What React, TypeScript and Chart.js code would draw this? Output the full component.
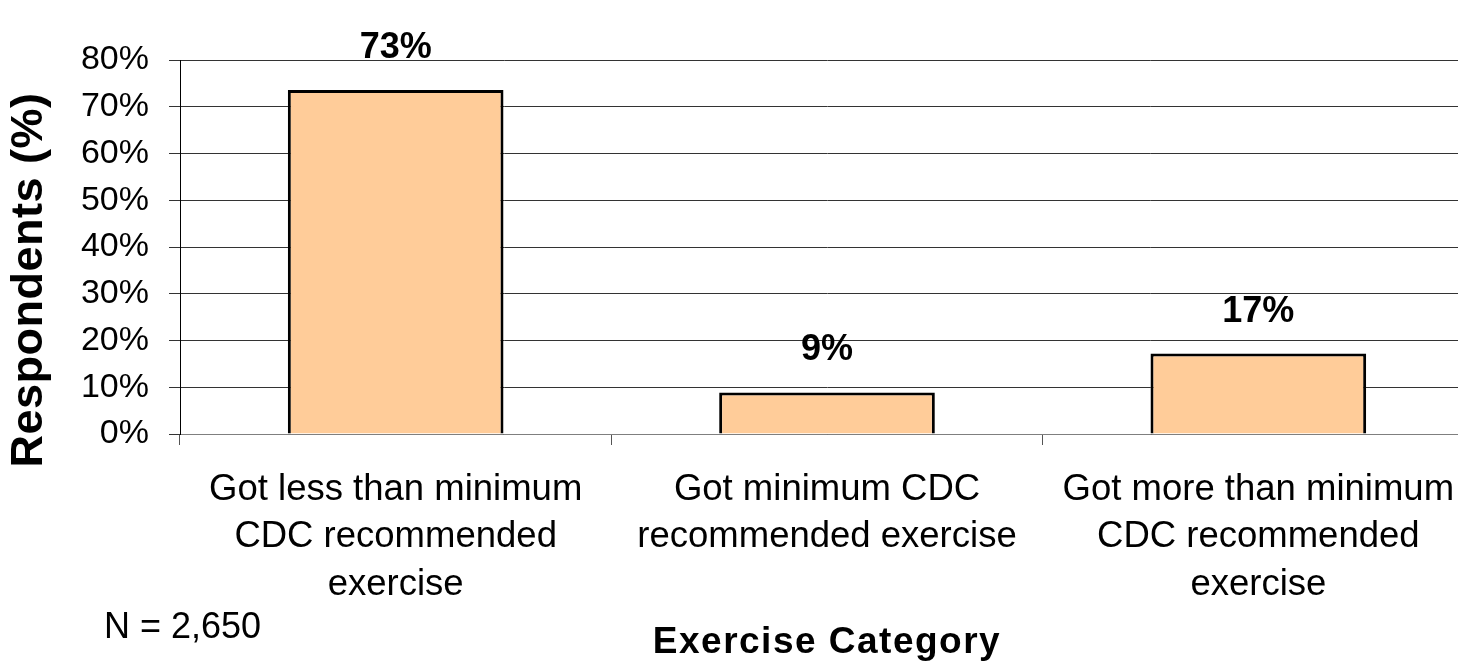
import React, { useEffect, useRef } from 'react';
import { Chart, registerables } from 'chart.js';

Chart.register(...registerables);

// ---- data ----
const categories: string[][] = [
  ['Got less than minimum', 'CDC recommended', 'exercise'],
  ['Got minimum CDC', 'recommended exercise'],
  ['Got more than minimum', 'CDC recommended', 'exercise'],
];
const values: number[] = [73.6, 8.9, 17.2];
const valueLabels: string[] = ['73%', '9%', '17%'];
const yMin = 0;
const yMax = 80;
const yStep = 10;
const yTitle = 'Respondents (%)';
const xTitle = 'Exercise Category';
const note = 'N = 2,650';

const FONT = '"Liberation Sans", Arial, Helvetica, sans-serif';

const textPlugin = {
  id: 'customTexts',
  afterDraw(chart: any) {
    const { ctx, chartArea } = chart;
    ctx.save();
    ctx.fillStyle = '#000';
    // value labels above bars
    const meta = chart.getDatasetMeta(0);
    ctx.font = `bold 36px ${FONT}`;
    ctx.textAlign = 'center';
    ctx.textBaseline = 'middle';
    meta.data.forEach((bar: any, i: number) => {
      ctx.fillText(valueLabels[i], bar.x, bar.y - 42);
    });

    // y-axis title (rotated)
    ctx.save();
    ctx.translate(30, (chartArea.top + chartArea.bottom) / 2 + 33);
    ctx.rotate(-Math.PI / 2);
    ctx.font = `bold 45px ${FONT}`;
    (ctx as any).letterSpacing = '0.5px';
    ctx.textAlign = 'center';
    ctx.textBaseline = 'middle';
    ctx.fillText(yTitle, 0, 0);
    ctx.restore();

    // x-axis title
    ctx.save();
    ctx.font = `bold 37px ${FONT}`;
    (ctx as any).letterSpacing = '1.5px';
    ctx.textAlign = 'center';
    ctx.textBaseline = 'middle';
    ctx.fillText(xTitle, (chartArea.left + chartArea.right) / 2, 643);
    ctx.restore();

    // sample size note
    ctx.font = `36px ${FONT}`;
    ctx.textAlign = 'left';
    ctx.textBaseline = 'middle';
    ctx.fillText(note, 104, 628);
    ctx.restore();
  },
};

export default function App() {
  const ref = useRef<HTMLCanvasElement | null>(null);

  useEffect(() => {
    if (!ref.current) return;
    const chart = new Chart(ref.current, {
      type: 'bar',
      data: {
        labels: categories,
        datasets: [
          {
            data: values,
            backgroundColor: '#FFCC99',
            borderColor: '#000000',
            borderWidth: 3,
            barPercentage: 0.5,
            categoryPercentage: 1.0,
          },
        ],
      },
      options: {
        responsive: false,
        animation: false,
        devicePixelRatio: 1,
        layout: { padding: { top: 60, right: 6, bottom: 0, left: 0 } },
        plugins: {
          legend: { display: false },
          tooltip: { enabled: false },
          title: { display: false },
        },
        scales: {
          x: {
            offset: true,
            afterFit: (scale: any) => {
              scale.height = 236;
            },
            grid: {
              offset: true,
              drawOnChartArea: false,
              drawTicks: true,
              tickLength: 11,
              color: '#555555',
              lineWidth: 1,
            },
            border: { display: true, color: '#7f7f7f', width: 1 },
            ticks: {
              color: '#000',
              font: { family: FONT, size: 36.5, lineHeight: 1.3 },
              padding: 21,
              maxRotation: 0,
              minRotation: 0,
              autoSkip: false,
            },
          },
          y: {
            min: yMin,
            max: yMax,
            afterFit: (scale: any) => {
              scale.width = 180;
            },
            grid: {
              drawOnChartArea: true,
              drawTicks: true,
              tickLength: 11,
              color: '#333333',
              lineWidth: 1,
            },
            border: { display: true, color: '#000', width: 1 },
            ticks: {
              stepSize: yStep,
              color: '#000',
              font: { family: FONT, size: 34 },
              padding: 20,
              callback: (v: any) => `${v}%`,
            },
          },
        },
      },
      plugins: [textPlugin],
    });
    return () => chart.destroy();
  }, []);

  return (
    <div
      style={{
        position: 'fixed',
        left: 0,
        top: 0,
        width: 1458,
        height: 670,
        overflow: 'hidden',
        background: '#fff',
      }}
    >
      <canvas ref={ref} width={1480} height={670} style={{ display: 'block' }} />
    </div>
  );
}
